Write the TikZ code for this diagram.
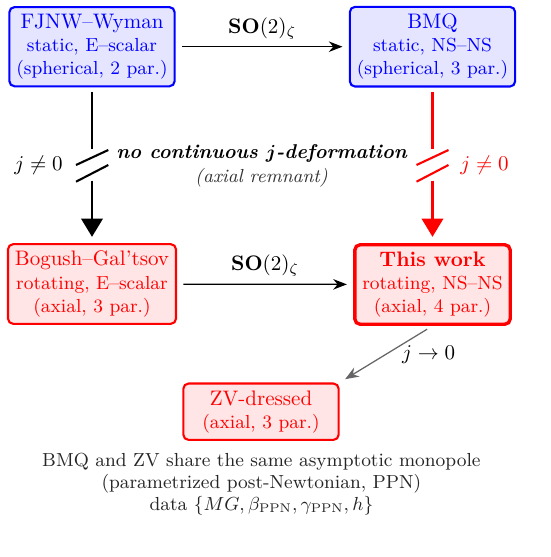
\documentclass[tikz,border=0pt]{standalone}
\usepackage{amsmath,bm}
\usetikzlibrary{arrows.meta}
\begin{document}
\begin{tikzpicture}[x=0.47619pt,y=-0.47619pt,
  box/.style={draw, rounded corners=2.5pt, line width=1pt, align=center, font=\small, minimum width=2.6cm, inner sep=3.33pt},
  bluebox/.style={box, draw=blue, fill=blue!10, text=blue},
  redbox/.style={box, draw=red, fill=red!10, text=red},
  conn/.style={semithick, -{Stealth[length=6.5pt,width=5pt]}, shorten >=3pt, shorten <=3pt},
  vline/.style={line width=1pt},
  tri/.style={-{Triangle[width=10.3pt,length=8.7pt]}, shorten >=3pt}
]
\useasboundingbox (0,0) rectangle (551,557);
% boxes
\node[bluebox] (fjnw) at (92,46.7) {{\normalsize FJNW--Wyman}\\static, E--scalar\\(spherical, 2 par.)};
\node[bluebox] (bmq) at (432.5,46.7) {{\normalsize BMQ}\\static, NS--NS\\(spherical, 3 par.)};
\node[redbox] (bg) at (92,284) {{\normalsize Bogush--Gal'tsov}\\rotating, E--scalar\\(axial, 3 par.)};
\node[redbox, line width=1.6pt] (tw) at (432.5,284.5) {{\normalsize\textbf{This work}}\\rotating, NS--NS\\(axial, 4 par.)};
\node[redbox] (zv) at (261,411.7) {{\normalsize ZV-dressed}\\(axial, 3 par.)};
% horizontal arrows
\draw[conn] (fjnw) -- node[above]{$\mathbf{SO}(2)_\zeta$} (bmq);
\draw[conn] (bg) -- node[above]{$\mathbf{SO}(2)_\zeta$} (tw);
% left broken arrow
\coordinate (L1) at (92,149.3);
\coordinate (L2) at (92,180.7);
\draw[vline, shorten <=2pt] (fjnw) -- (L1);
\draw[vline] (76,165) -- (108.3,150);
\draw[vline] (76,181.7) -- (108.3,165);
\draw[vline, tri] (L2) -- (bg);
\node (jl) at (38.5,165) {$j\neq0$};
% right broken arrow
\coordinate (R1) at (432.5,149.3);
\coordinate (R2) at (432.5,180.7);
\draw[vline, red, shorten <=2pt] (bmq) -- (R1);
\draw[vline, red] (416.5,165) -- (448.5,150);
\draw[vline, red] (416.5,181.7) -- (448.5,165);
\draw[vline, red, tri] (R2) -- (tw);
\node[text=red] (jr) at (484.5,165) {$j\neq0$};
% middle text
\node[font={\fontsize{9.5}{11}\selectfont}] (nocont) at (262,153.3) {\textbf{\textit{no continuous $\bm{j}$-deformation}}};
\node[font=\small, text=black!80] (rem) at (261.5,177.3) {\textit{(axial remnant)}};
% j -> 0
\draw[black!60, semithick, -{Stealth[length=6.5pt,width=5pt]}, shorten >=3pt, shorten <=3pt] (tw.south) -- node[midway, right=4pt, text=black]{$j\to0$} (zv.north east);
% note
\node[align=center, font={\fontsize{9}{10.5}\selectfont}, text=black!85] (note) at (261.4,484.5) {BMQ and ZV share the same asymptotic monopole\\(parametrized post-Newtonian, PPN)\\data $\{MG,\beta_{\mathrm{PPN}},\gamma_{\mathrm{PPN}},h\}$};
\end{tikzpicture}
\end{document}
